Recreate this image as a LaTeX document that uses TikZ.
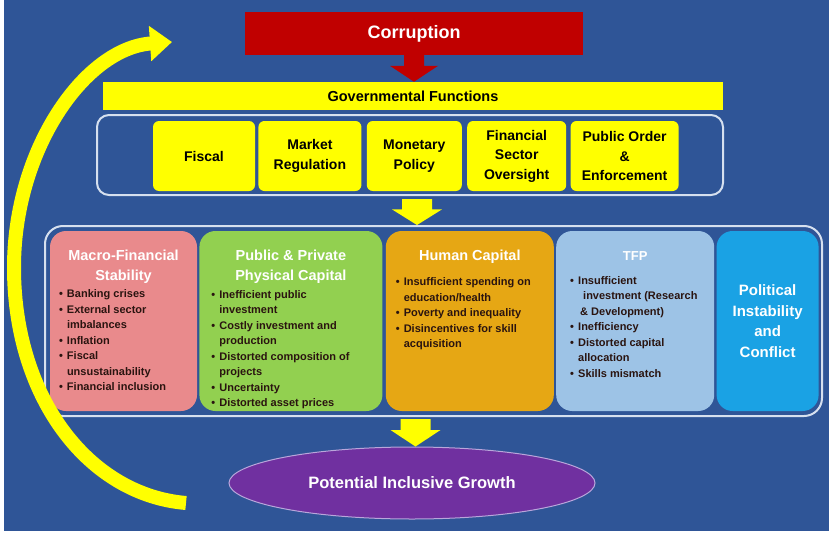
\documentclass[tikz,border=0pt]{standalone}
\usepackage{fontspec}
\setmainfont{Liberation Sans}
\usetikzlibrary{positioning,shapes.geometric,arrows.meta,calc}

\definecolor{slide}{HTML}{2F5597}
\definecolor{framecol}{HTML}{D6E0EF}
\definecolor{corrred}{HTML}{C00000}
\definecolor{govyellow}{HTML}{FFFF00}
\definecolor{macropink}{HTML}{E98A8C}
\definecolor{capgreen}{HTML}{92D050}
\definecolor{humgold}{HTML}{E6A714}
\definecolor{tfpblue}{HTML}{9DC3E6}
\definecolor{polblue}{HTML}{1AA2E4}
\definecolor{growthpurple}{HTML}{7030A0}
\definecolor{growthline}{HTML}{B9A6DB}
\definecolor{bullettext}{HTML}{2A1410}

% bullet and continuation line
\newcommand{\bul}{\makebox[8pt][l]{\textbullet}}
\newcommand{\cont}{\hspace*{8pt}}
% block arrow: colour, base, tip, half shaft, half head
\newcommand{\blockarrow}[5]{%
  \fill[#1] ($(#2)+(-#4,0)$) -- ($(#2)+(#4,0)$)
    -- ($(#2)!0.4!(#3)+(#4,0)$) -- ($(#2)!0.4!(#3)+(#5,0)$)
    -- (#3) -- ($(#2)!0.4!(#3)+(-#5,0)$)
    -- ($(#2)!0.4!(#3)+(-#4,0)$) -- cycle;}

\begin{document}
\begin{tikzpicture}[x=1pt,y=-1pt,
every node/.style={font=\bfseries},
funcbox/.style={rectangle,rounded corners=6pt,fill=govyellow,minimum height=70pt,inner sep=0pt,align=center,font=\fontsize{14}{19.5}\selectfont\bfseries},
frame/.style={rectangle,draw=framecol,line width=2pt,fill=slide},
factor/.style={rectangle,rounded corners=16pt,minimum height=180pt,inner sep=0pt},
factortitle/.style={text=white,align=center,inner sep=0pt,anchor=north,font=\fontsize{14.5}{20}\selectfont\bfseries},
bullets/.style={align=left,anchor=north west,inner sep=0pt,text=bullettext,font=\fontsize{11}{15.5}\selectfont\bfseries},
loopline/.style={draw=govyellow,line width=14pt,-{Triangle[length=22pt,width=34pt]}}
]
\useasboundingbox (0,0) rectangle (829,535);
\fill[white] (0,0) rectangle (829,535);
\fill[slide] (4,0) rectangle (829,531);

% top: corruption and government
\node[rectangle,fill=corrred,minimum width=338pt,minimum height=43pt,text=white,font=\fontsize{18}{20}\selectfont\bfseries] (corr) at (414,33.5) {Corruption};
\node[rectangle,fill=govyellow,minimum width=620pt,minimum height=28pt,font=\fontsize{14.5}{16}\selectfont\bfseries] (govf) at (413,96) {Governmental Functions};
\coordinate (a1tip) at (corr.south |- govf.north);
\blockarrow{corrred}{corr.south}{a1tip}{10}{24}

\node[frame,rounded corners=12pt,minimum width=626pt,minimum height=80pt] (funcframe) at (410,155) {};
\node[funcbox,minimum width=102pt] (fiscal) at (204,156) {Fiscal};
\node[funcbox,minimum width=103pt,right=3pt of fiscal] (market) {Market\\Regulation};
\node[funcbox,minimum width=95pt,right=5pt of market] (monetary) {Monetary\\Policy};
\node[funcbox,minimum width=99pt,right=5pt of monetary] (finsector) {Financial\\Sector\\Oversight};
\node[funcbox,minimum width=108pt,right=4pt of finsector] (puborder) {Public Order\\\&\\Enforcement};

% channels
\node[frame,rounded corners=18pt,minimum width=777pt,minimum height=190pt] (factframe) at (433.5,321) {};
\coordinate (a2base) at ([xshift=7pt,yshift=-3pt]funcframe.south);
\coordinate (a2tip) at (a2base |- factframe.north);
\blockarrow{govyellow}{a2base}{a2tip}{15}{25}

\node[factor,fill=macropink,minimum width=147pt] (macro) at (123.5,321) {};
\node[factor,fill=capgreen,minimum width=183pt,right=2pt of macro] (physcap) {};
\node[factor,fill=humgold,minimum width=168pt,right=3pt of physcap] (human) {};
\node[factor,fill=tfpblue,minimum width=158pt,right=2pt of human] (tfp) {};
\node[factor,fill=polblue,minimum width=102pt,right=2pt of tfp,text=white,align=center,font=\fontsize{15}{20.5}\selectfont\bfseries] (politic) {Political\\Instability\\and\\Conflict};

\node[factortitle,below=19pt of macro.north] (macrot) {Macro-Financial\\Stability};
\node[factortitle,below=19pt of physcap.north] (physcapt) {Public \& Private\\Physical Capital};
\node[factortitle,below=19pt of human.north] (humant) {Human Capital};
\node[factortitle,below=20.5pt of tfp.north,font=\fontsize{13}{15}\selectfont\bfseries] (tfpt) {TFP};

\node[bullets] (macrob) at ([xshift=9pt,yshift=-59pt]macro.north west)
  {\bul Banking crises\\\bul External sector\\\cont imbalances\\\bul Inflation\\\bul Fiscal\\\cont unsustainability\\\bul Financial inclusion};
\node[bullets] (physcapb) at ([xshift=12pt,yshift=-59.5pt]physcap.north west)
  {\bul Inefficient public\\\cont investment\\\bul Costly investment and\\\cont production\\\bul Distorted composition of\\\cont projects\\\bul Uncertainty\\\bul Distorted asset prices};
\node[bullets] (humanb) at ([xshift=10pt,yshift=-47pt]human.north west)
  {\bul Insufficient spending on\\\cont education/health\\\bul Poverty and inequality\\\bul Disincentives for skill\\\cont acquisition};
\node[bullets] (tfpb) at ([xshift=14pt,yshift=-45.5pt]tfp.north west)
  {\bul Insufficient\\\cont\hspace*{5pt}investment (Research\\\cont\hspace*{2pt}\& Development)\\\bul Inefficiency\\\bul Distorted capital\\\cont allocation\\\bul Skills mismatch};

% outcome
\node[ellipse,fill=growthpurple,draw=growthline,line width=1pt,minimum width=366pt,minimum height=72pt,text=white,font=\fontsize{16.5}{18}\selectfont\bfseries] (growth) at (412,483) {Potential Inclusive Growth};
\coordinate (a3base) at ([xshift=-18pt,yshift=-2pt]factframe.south);
\coordinate (a3tip) at (a3base |- growth.north);
\blockarrow{govyellow}{a3base}{a3tip}{15}{25}

% feedback loop
\coordinate (loopstart) at (186,503);
\coordinate (loopside) at (14,270);
\coordinate (loopend) at (172,42);
\draw[loopline] (loopstart) .. controls (90,495) and (15,400) .. (loopside)
  .. controls (13,150) and (85,48) .. (loopend);
\end{tikzpicture}
\end{document}
